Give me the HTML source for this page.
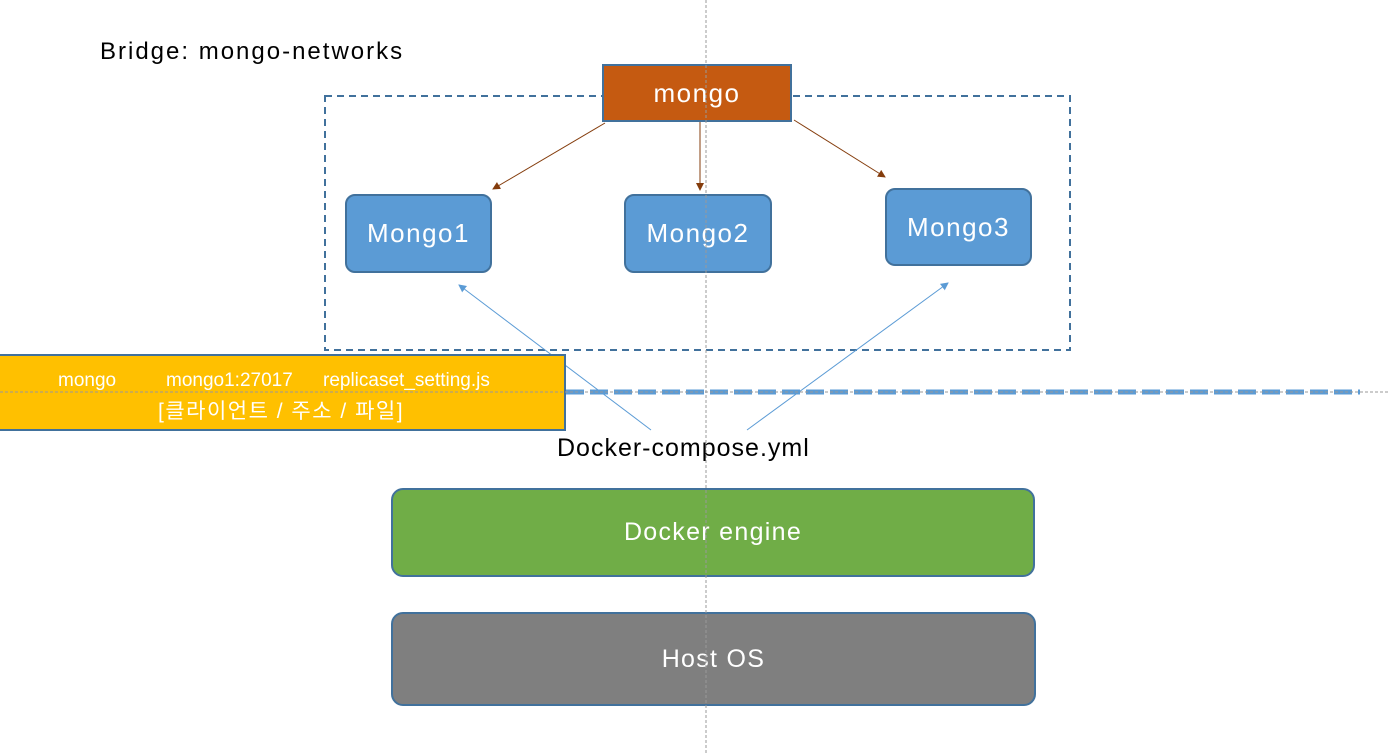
<!DOCTYPE html>
<html><head><meta charset="utf-8"><style>
html,body{margin:0;padding:0;background:#fff;width:1389px;height:755px;overflow:hidden;position:relative;font-family:"Liberation Sans","Noto Sans CJK KR",sans-serif}
.b{position:absolute;box-sizing:border-box;display:flex;align-items:center;justify-content:center;color:#fff}
.t{position:absolute;color:#fff;font-size:19px;white-space:nowrap}
</style></head><body>
<svg width="1389" height="755" style="position:absolute;left:0;top:0">
<defs>
<marker id="ab" markerWidth="8" markerHeight="8" refX="7" refY="4" orient="auto" markerUnits="userSpaceOnUse"><path d="M0,0 L8,4 L0,8 z" fill="#843c0c"/></marker>
<marker id="ac" markerWidth="8" markerHeight="8" refX="7" refY="4" orient="auto" markerUnits="userSpaceOnUse"><path d="M0,0 L8,4 L0,8 z" fill="#5b9bd5"/></marker>
</defs>
<rect x="325" y="96" width="745" height="254" fill="none" stroke="#41719c" stroke-width="2" stroke-dasharray="7,5"/>
<line x1="566" y1="392" x2="1360" y2="392" stroke="#5b9bd5" stroke-width="5" stroke-dasharray="18,6"/>
<line x1="605" y1="123" x2="493" y2="189" stroke="#843c0c" stroke-width="1" marker-end="url(#ab)"/>
<line x1="700" y1="122" x2="700" y2="190" stroke="#843c0c" stroke-width="1" marker-end="url(#ab)"/>
<line x1="794" y1="120" x2="885" y2="177" stroke="#843c0c" stroke-width="1" marker-end="url(#ab)"/>
<line x1="651" y1="430" x2="459" y2="285" stroke="#5b9bd5" stroke-width="1" marker-end="url(#ac)"/>
<line x1="747" y1="430" x2="948" y2="283" stroke="#5b9bd5" stroke-width="1" marker-end="url(#ac)"/>
</svg>
<div style="position:absolute;left:100px;top:38px;font-size:24px;color:#000;letter-spacing:2px">Bridge: mongo-networks</div>
<div class="b" style="left:602px;top:64px;width:190px;height:58px;background:#c55a11;border:2px solid #41719c;font-size:26px;letter-spacing:1.5px">mongo</div>
<div class="b" style="left:345px;top:194px;width:147px;height:79px;background:#5b9bd5;border:2px solid #41719c;border-radius:10px;font-size:26px;letter-spacing:1.5px">Mongo1</div>
<div class="b" style="left:624px;top:194px;width:148px;height:79px;background:#5b9bd5;border:2px solid #41719c;border-radius:10px;font-size:26px;letter-spacing:1.5px">Mongo2</div>
<div class="b" style="left:885px;top:188px;width:147px;height:78px;background:#5b9bd5;border:2px solid #41719c;border-radius:10px;font-size:26px;letter-spacing:1.5px">Mongo3</div>
<div style="position:absolute;left:-4px;top:354px;width:570px;height:77px;box-sizing:border-box;background:#ffc000;border:2px solid #41719c"></div>
<div class="t" style="left:58px;top:370px">mongo</div>
<div class="t" style="left:166px;top:370px">mongo1:27017</div>
<div class="t" style="left:323px;top:370px">replicaset_setting.js</div>
<div class="t" style="left:158px;top:395px;font-size:21px;letter-spacing:1.5px">[클라이언트 / 주소 / 파일]</div>
<div style="position:absolute;left:557px;top:434px;font-size:25px;color:#000;letter-spacing:1px">Docker-compose.yml</div>
<div class="b" style="left:391px;top:488px;width:644px;height:89px;background:#70ad47;border:2px solid #41719c;border-radius:12px;font-size:25px;letter-spacing:1.3px">Docker engine</div>
<div class="b" style="left:391px;top:612px;width:645px;height:94px;background:#7f7f7f;border:2px solid #41719c;border-radius:12px;font-size:25px;letter-spacing:1.3px">Host OS</div>
<svg width="1389" height="755" style="position:absolute;left:0;top:0">
<line x1="706" y1="0" x2="706" y2="755" stroke="#999" stroke-width="1" stroke-dasharray="3,2"/>
<line x1="0" y1="392" x2="1389" y2="392" stroke="#999" stroke-width="1" stroke-dasharray="3,2"/>
</svg>
</body></html>
